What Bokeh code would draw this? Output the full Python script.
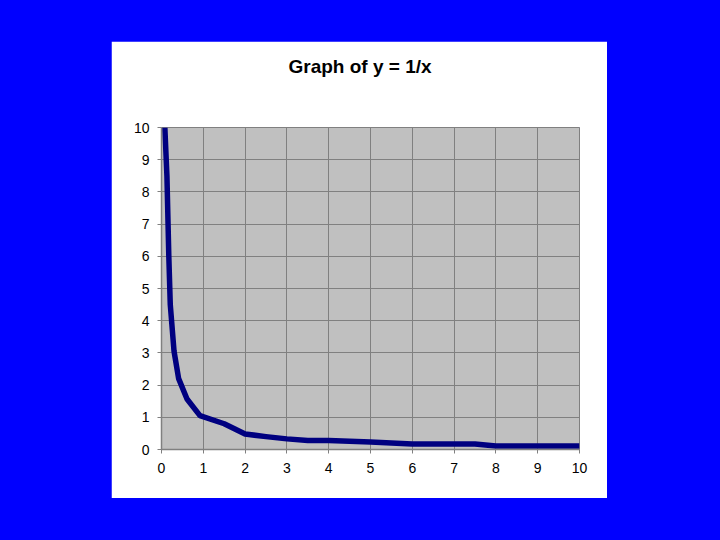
from bokeh.plotting import figure
from bokeh.models import Range1d, FixedTicker, Spacer, Title
from bokeh.layouts import row, column
from bokeh.embed import file_html
from bokeh.resources import INLINE

# ---- data ----
x_vals = [0.08, 0.13, 0.175, 0.21, 0.30, 0.41, 0.61, 0.92, 1.5, 2.0, 2.5, 3.0, 3.5,
          4.0, 5.0, 6.0, 7.5, 8.0, 9.0, 10.0]
y_vals = [10.0, 8.5, 6.0, 4.5, 3.05, 2.2, 1.57, 1.05, 0.8, 0.48, 0.40, 0.33, 0.28,
          0.28, 0.23, 0.17, 0.17, 0.11, 0.11, 0.11]
x_ticks = list(range(0, 11))
y_ticks = list(range(0, 11))
title_text = "Graph of y = 1/x"

# ---- layout constants ----
W, H = 496, 457
ML, MR, MT, MB = 50, 28, 86, 49
FONT = "Liberation Sans"

p = figure(width=W, height=H, output_backend="svg", toolbar_location=None,
           x_range=Range1d(0, 10), y_range=Range1d(0, 10),
           min_border_left=ML, min_border_right=MR,
           min_border_top=MT, min_border_bottom=MB,
           title=title_text)
p.border_fill_color = "white"
p.background_fill_color = "#C0C0C0"
p.outline_line_color = "#808080"
p.outline_line_width = 1

p.title.align = "left"
p.title.offset = 127
p.title.text_font = FONT
p.title.text_font_size = "19px"
p.title.text_font_style = "bold"
p.title.text_color = "black"
p.title.vertical_align = "top"
p.title.standoff = 10

# blank spacer panel between the title and the plot area
p.add_layout(Title(text=" ", text_font_size="18px", standoff=22), "above")

for ax, ticks in ((p.xaxis, x_ticks), (p.yaxis, y_ticks)):
    ax.ticker = FixedTicker(ticks=ticks)
    ax.axis_line_color = "#808080"
    ax.axis_line_width = 1.5
    ax.major_tick_line_color = "#808080"
    ax.major_tick_in = 0
    ax.major_tick_out = 4
    ax.minor_tick_line_color = None
    ax.major_label_text_font = FONT
    ax.major_label_text_font_size = "14px"
    ax.major_label_text_color = "black"
p.yaxis.major_label_standoff = 8
p.xaxis.major_label_standoff = 9

p.grid.grid_line_color = "#808080"
p.grid.grid_line_width = 1
p.grid.grid_line_alpha = 1.0

p.line(x_vals, y_vals, line_color="#000080", line_width=5.5, line_join="round")

layout = row(Spacer(width=111, height=10), column(Spacer(width=10, height=41), p))

html = file_html(layout, INLINE)
html = html.replace("</head>",
                    "<style>html, body { background-color: #0000FF !important; }</style></head>", 1)
open("out.html", "w").write(html)
